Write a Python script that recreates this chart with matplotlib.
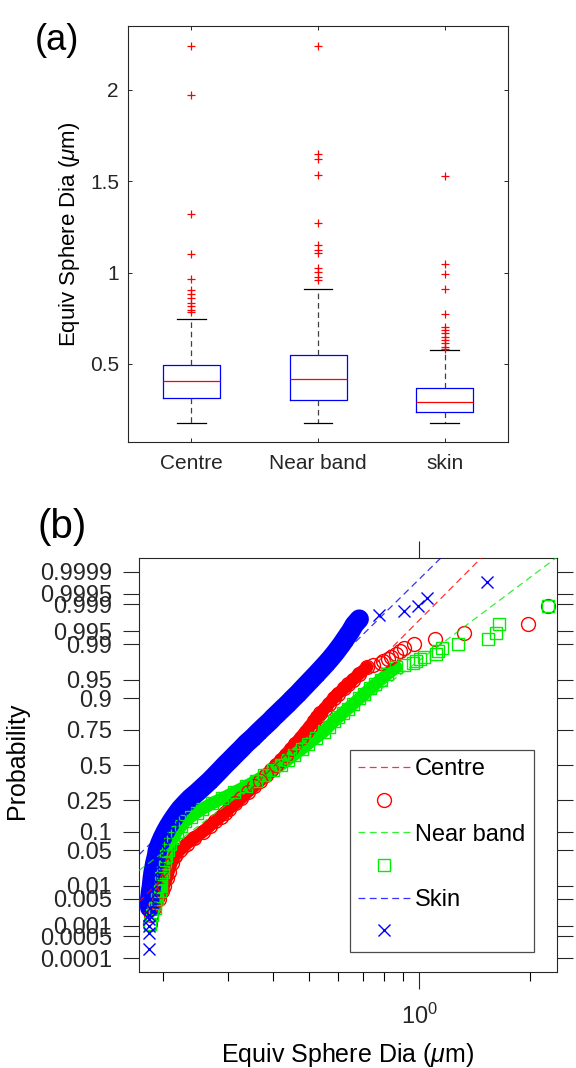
import numpy as np
import matplotlib
matplotlib.use('Agg')
import matplotlib.pyplot as plt
from matplotlib.ticker import FixedLocator, FixedFormatter, NullLocator
from statistics import NormalDist

plt.rcParams['font.family'] = ['Liberation Sans', 'DejaVu Sans']
plt.rcParams['mathtext.fontset'] = 'custom'
plt.rcParams['mathtext.rm'] = 'Liberation Sans'
plt.rcParams['mathtext.it'] = 'Liberation Sans:italic'

#---------------
# DATA (a) box plot
#---------------
groups   = ['Centre', 'Near band', 'skin']
q1       = [0.314, 0.303, 0.237]
medians  = [0.407, 0.418, 0.292]
q3       = [0.495, 0.549, 0.369]
whis_lo  = [0.177, 0.177, 0.177]
whis_hi  = [0.746, 0.910, 0.577]
centre_out = [0.785, 0.796, 0.820, 0.834, 0.862, 0.885, 0.907, 0.966, 1.10, 1.32, 1.97, 2.24]
near_out   = [0.960, 0.977, 1.005, 1.027, 1.11, 1.126, 1.153, 1.27, 1.533, 1.62, 1.648, 2.24]
skin_out   = [0.580, 0.595, 0.614, 0.631, 0.648, 0.668, 0.686, 0.700, 0.774, 0.91, 0.99, 1.05, 1.53]

#---------------
# DATA (b) probability plot  (plotting position, diameter in um)
#---------------
centre_p = [0.0011, 0.002, 0.003, 0.005, 0.0075, 0.01, 0.015, 0.02, 0.03, 0.04, 0.05, 0.065, 0.08,
            0.10, 0.12, 0.14, 0.16, 0.18, 0.20, 0.23, 0.26, 0.30, 0.34, 0.38, 0.42, 0.46, 0.50,
            0.54, 0.58, 0.62, 0.66, 0.70, 0.74, 0.77, 0.80, 0.82, 0.84, 0.86, 0.88, 0.90, 0.915,
            0.93, 0.94, 0.95, 0.96, 0.97, 0.973,
            0.9747, 0.9769, 0.9791, 0.9813, 0.9835, 0.9857, 0.9879, 0.9901, 0.9923, 0.9945, 0.9967, 0.9989]
centre_d = [0.184, 0.186, 0.189, 0.195, 0.199, 0.201, 0.205, 0.207, 0.211, 0.215, 0.222, 0.232, 0.243,
            0.257, 0.268, 0.277, 0.287, 0.295, 0.303, 0.315, 0.326, 0.340, 0.354, 0.368, 0.381, 0.394, 0.407,
            0.420, 0.432, 0.446, 0.459, 0.474, 0.489, 0.502, 0.515, 0.525, 0.537, 0.551, 0.566, 0.583, 0.600,
            0.623, 0.640, 0.660, 0.685, 0.720, 0.745,
            0.785, 0.796, 0.820, 0.834, 0.862, 0.885, 0.907, 0.966, 1.10, 1.32, 1.97, 2.24]

near_p = centre_p
near_d = [0.184, 0.187, 0.190, 0.193, 0.196, 0.197, 0.198, 0.200, 0.202, 0.204, 0.206, 0.209, 0.213,
          0.218, 0.224, 0.230, 0.238, 0.247, 0.256, 0.272, 0.290, 0.313, 0.336, 0.358, 0.378, 0.398, 0.418,
          0.437, 0.456, 0.477, 0.498, 0.522, 0.548, 0.565, 0.585, 0.600, 0.617, 0.637, 0.660, 0.686, 0.708,
          0.735, 0.758, 0.785, 0.818, 0.865, 0.910,
          0.960, 0.977, 1.005, 1.027, 1.11, 1.126, 1.153, 1.27, 1.533, 1.62, 1.648, 2.24]

skin_p = [0.0002, 0.0006, 0.001, 0.0015, 0.002, 0.003, 0.005, 0.0075, 0.01, 0.015, 0.02, 0.03, 0.04,
          0.05, 0.065, 0.08, 0.10, 0.12, 0.14, 0.16, 0.18, 0.20, 0.23, 0.26, 0.30, 0.34, 0.38, 0.42,
          0.46, 0.50, 0.54, 0.58, 0.62, 0.66, 0.70, 0.74, 0.77, 0.80, 0.82, 0.84, 0.86, 0.88, 0.90,
          0.915, 0.93, 0.94, 0.95, 0.96, 0.97, 0.975, 0.98, 0.985, 0.99, 0.993, 0.995, 0.9965, 0.9975,
          0.9981, 0.9985, 0.9989, 0.99936, 0.99979]
skin_d = [0.183, 0.183, 0.183, 0.183, 0.183, 0.184, 0.184, 0.185, 0.186, 0.187, 0.188, 0.190, 0.192,
          0.193, 0.196, 0.199, 0.203, 0.207, 0.211, 0.215, 0.219, 0.223, 0.230, 0.237, 0.248, 0.258, 0.268, 0.277,
          0.286, 0.295, 0.305, 0.315, 0.326, 0.337, 0.351, 0.365, 0.377, 0.391, 0.400, 0.411, 0.423, 0.437, 0.452,
          0.466, 0.481, 0.493, 0.507, 0.524, 0.545, 0.558, 0.573, 0.591, 0.614, 0.632, 0.649, 0.664, 0.685,
          0.774, 0.91, 0.99, 1.05, 1.53]

# lognormal reference lines: median (um) and sigma of log10(d)
fit_median = [0.404, 0.416, 0.305]
fit_sigma  = [0.141, 0.189, 0.144]
series_names = ['Centre', 'Near band', 'Skin']

prob_ticks  = [0.0001, 0.0005, 0.001, 0.005, 0.01, 0.05, 0.1, 0.25, 0.5, 0.75, 0.9, 0.95,
               0.99, 0.995, 0.999, 0.9995, 0.9999]
prob_labels = ['0.0001', '0.0005', '0.001', '0.005', '0.01', '0.05', '0.1', '0.25', '0.5', '0.75',
               '0.9', '0.95', '0.99', '0.995', '0.999', '0.9995', '0.9999']

#---------------
# FIGURE
#---------------
dark = '0.15'
fig = plt.figure(figsize=(5.76, 10.68), dpi=100)

##### (a) box plot #####
ax1 = fig.add_axes([128/576, 1-442/1068, 380/576, 416/1068])
outs = [centre_out, near_out, skin_out]
stats = []
for i in range(3):
    stats.append(dict(med=medians[i], q1=q1[i], q3=q3[i], whislo=whis_lo[i],
                      whishi=whis_hi[i], fliers=np.array(outs[i]), label=groups[i]))

ax1.bxp(stats, positions=[1, 2, 3], widths=0.45, capwidths=0.225, showfliers=True,
        boxprops=dict(color='blue', lw=0.9),
        medianprops=dict(color='red', lw=0.9),
        whiskerprops=dict(color='0.25', lw=0.9, linestyle=(0, (4.5, 3))),
        capprops=dict(color='black', lw=0.9),
        flierprops=dict(marker='+', markeredgecolor='red', markersize=6, markeredgewidth=0.9,
                        linestyle='none'))
ax1.set_xlim(0.5, 3.5)
ax1.set_ylim(0.073, 2.35)
ax1.set_yticks([0.5, 1, 1.5, 2])
ax1.set_yticklabels(['0.5', '1', '1.5', '2'])
ax1.tick_params(direction='in', length=3, width=0.7, top=True, right=True,
                labelsize=15, colors=dark)
ax1.tick_params(axis='x', pad=8.5)
ax1.tick_params(axis='y', pad=6.5)
for s in ax1.spines.values():
    s.set_color(dark)
    s.set_linewidth(0.8)
ax1.set_ylabel(r'Equiv Sphere Dia ($\mu$m)', fontsize=16, color='black')
ax1.yaxis.set_label_coords(-0.121, 0.5)
fig.text(35/576, 1-40/1068, '(a)', fontsize=26, va='center', ha='left')

##### (b) probability plot #####
nd = NormalDist()
ppf = np.vectorize(nd.inv_cdf, otypes=[float])
cdf = np.vectorize(nd.cdf, otypes=[float])

def forward(p):
    return ppf(np.clip(np.asarray(p, float), 1e-12, 1 - 1e-12))

def inverse(z):
    return cdf(np.asarray(z, float))

ax2 = fig.add_axes([139/576, 1-972/1068, 418/576, 414/1068])
ax2.set_xscale('log')
ax2.set_yscale('function', functions=(forward, inverse))
ax2.set_xlim(0.172, 2.37)
ax2.set_ylim(3.4e-5, 1 - 3.4e-5)

colors  = ['red', '#00ee00', 'blue']
markers = ['o', 's', 'x']
msizes  = [10, 8, 8]
band_lw = [9, 9, 14]
band_lims = [(0.003, 0.97), (0.003, 0.97), (0.003, 0.9975)]
data = [(centre_p, centre_d), (near_p, near_d), (skin_p, skin_d)]

marker_handles = []
for i, (p, d) in enumerate(data):
    p = np.asarray(p)
    d = np.asarray(d)
    band = (p >= band_lims[i][0]) & (p <= band_lims[i][1])
    ax2.plot(d[band], p[band], '-', color=colors[i], lw=band_lw[i],
             solid_capstyle='round', zorder=2)
    h, = ax2.plot(d, p, linestyle='none', marker=markers[i], ms=msizes[i],
                  mfc='none', mec=colors[i], mew=1.0, zorder=3)
    marker_handles.append(h)

line_handles = []
xl = np.array(ax2.get_xlim())
for i in range(3):
    zl = (np.log10(xl) - np.log10(fit_median[i])) / fit_sigma[i]
    h, = ax2.plot(xl, cdf(zl), linestyle=(0, (5.5, 3.5)), color=colors[i], lw=0.9,
                  alpha=0.8, zorder=4)
    line_handles.append(h)

ax2.yaxis.set_major_locator(FixedLocator(prob_ticks))
ax2.yaxis.set_major_formatter(FixedFormatter(prob_labels))
ax2.yaxis.set_minor_locator(NullLocator())
ax2.xaxis.set_major_locator(FixedLocator([1.0]))
ax2.xaxis.set_major_formatter(FixedFormatter([r'$10^0$']))
ax2.xaxis.set_minor_locator(FixedLocator([0.2, 0.3, 0.4, 0.5, 0.6, 0.7, 0.8, 0.9, 2.0]))
ax2.tick_params(direction='out', top=True, right=True, colors=dark, width=0.8)
ax2.tick_params(axis='y', length=11.5, labelsize=17, pad=8)
ax2.tick_params(axis='x', which='major', length=12.5, labelsize=17, pad=10)
ax2.tick_params(axis='x', which='minor', length=6.5, width=0.8)
for s in ax2.spines.values():
    s.set_color(dark)
    s.set_linewidth(0.8)

ax2.set_xlabel(r'Equiv Sphere Dia ($\mu$m)', fontsize=18)
ax2.xaxis.set_label_coords(0.5, -0.166)
ax2.set_ylabel('Probability', fontsize=18)
ax2.yaxis.set_label_coords(-0.262, 0.51)

handles = []
labels = []
for i in range(3):
    handles += [line_handles[i], marker_handles[i]]
    labels += [series_names[i], '']
leg = ax2.legend(handles, labels, loc='upper left', bbox_to_anchor=(0.505, 0.536),
                 borderaxespad=0, fontsize=17, handlelength=2.2, handletextpad=0.2,
                 labelspacing=0.45, borderpad=0.35, fancybox=False, framealpha=1,
                 edgecolor='0.3')
leg.get_frame().set_linewidth(0.9)

fig.text(38/576, 1-527/1068, '(b)', fontsize=29, va='center', ha='left')

fig.savefig('out.png', dpi=100)
plt.close()
